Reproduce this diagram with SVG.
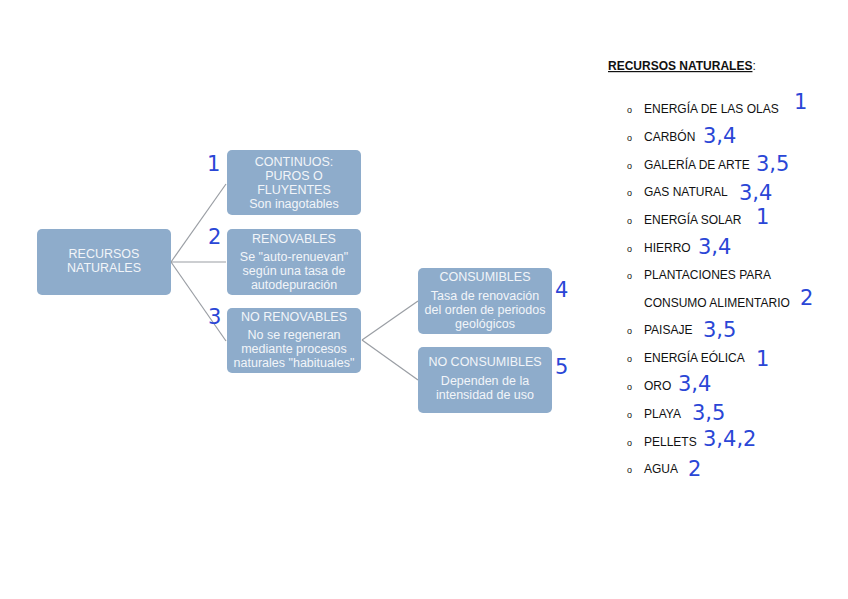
<svg xmlns="http://www.w3.org/2000/svg" width="848" height="599" viewBox="0 0 848 599">
<style>
.box{fill:#8eaccb;}
.bt{font-family:"Liberation Sans",Arial,sans-serif;font-size:12.5px;fill:#f2f5f9;text-anchor:middle;}
.ln{stroke:#9a9ea4;stroke-width:1.2;fill:none;}
.hw{font-family:"DejaVu Sans",sans-serif;font-size:21px;fill:#2a46d6;}
.li{font-family:"Liberation Sans",Arial,sans-serif;font-size:12px;fill:#111;}
.bu{font-family:"Liberation Sans",Arial,sans-serif;font-size:9px;fill:#111;}
</style>
<rect width="848" height="599" fill="#fff"/>
<g id="connectors">
<line class="ln" x1="171" y1="262" x2="226" y2="184"/>
<line class="ln" x1="171" y1="262" x2="226" y2="262"/>
<line class="ln" x1="171" y1="262" x2="226" y2="341"/>
<line class="ln" x1="362" y1="340" x2="418" y2="301"/>
<line class="ln" x1="362" y1="340" x2="418" y2="380"/>
</g>
<g id="n-root">
<rect class="box" x="37" y="229" width="134" height="66" rx="5"/>
<text class="bt" x="104" y="258">RECURSOS</text>
<text class="bt" x="104" y="272">NATURALES</text>
</g>
<g id="n-continuos">
<rect class="box" x="227" y="150" width="134" height="65" rx="5"/>
<text class="bt" x="294" y="166">CONTINUOS:</text>
<text class="bt" x="294" y="180">PUROS O</text>
<text class="bt" x="294" y="194">FLUYENTES</text>
<text class="bt" x="294" y="208">Son inagotables</text>
</g>
<g id="n-renovables">
<rect class="box" x="227" y="229" width="134" height="66" rx="5"/>
<text class="bt" x="294" y="243">RENOVABLES</text>
<text class="bt" x="294" y="261">Se "auto-renuevan"</text>
<text class="bt" x="294" y="275">según una tasa de</text>
<text class="bt" x="294" y="289">autodepuración</text>
</g>
<g id="n-norenovables">
<rect class="box" x="227" y="308" width="134" height="65" rx="5"/>
<text class="bt" x="294" y="321">NO RENOVABLES</text>
<text class="bt" x="294" y="339">No se regeneran</text>
<text class="bt" x="294" y="353">mediante procesos</text>
<text class="bt" x="294" y="367">naturales "habituales"</text>
</g>
<g id="n-consumibles">
<rect class="box" x="418" y="268" width="134" height="66" rx="5"/>
<text class="bt" x="485" y="281">CONSUMIBLES</text>
<text class="bt" x="485" y="300">Tasa de renovación</text>
<text class="bt" x="485" y="314">del orden de periodos</text>
<text class="bt" x="485" y="328">geológicos</text>
</g>
<g id="n-noconsumibles">
<rect class="box" x="418" y="347" width="134" height="66" rx="5"/>
<text class="bt" x="485" y="366">NO CONSUMIBLES</text>
<text class="bt" x="485" y="385">Dependen de la</text>
<text class="bt" x="485" y="399">intensidad de uso</text>
</g>
<g id="handnums-diagram">
<text class="hw" x="207" y="171">1</text>
<text class="hw" x="208" y="244">2</text>
<text class="hw" x="208" y="324">3</text>
<text class="hw" x="555" y="297">4</text>
<text class="hw" x="555" y="374">5</text>
</g>
<g id="list">
<text class="li" x="608" y="70" font-weight="bold"><tspan text-decoration="underline">RECURSOS NATURALES</tspan><tspan font-weight="normal">:</tspan></text>
<g class="bu">
<text x="627" y="113">o</text>
<text x="627" y="141">o</text>
<text x="627" y="169">o</text>
<text x="627" y="196">o</text>
<text x="627" y="224">o</text>
<text x="627" y="252">o</text>
<text x="627" y="279">o</text>
<text x="627" y="334">o</text>
<text x="627" y="362">o</text>
<text x="627" y="390">o</text>
<text x="627" y="418">o</text>
<text x="627" y="446">o</text>
<text x="627" y="473">o</text>
</g>
<text class="li" x="644" y="113">ENERGÍA DE LAS OLAS</text>
<text class="li" x="644" y="141">CARBÓN</text>
<text class="li" x="644" y="169">GALERÍA DE ARTE</text>
<text class="li" x="644" y="196">GAS NATURAL</text>
<text class="li" x="644" y="224">ENERGÍA SOLAR</text>
<text class="li" x="644" y="252">HIERRO</text>
<text class="li" x="644" y="279">PLANTACIONES PARA</text>
<text class="li" x="644" y="307">CONSUMO ALIMENTARIO</text>
<text class="li" x="644" y="334">PAISAJE</text>
<text class="li" x="644" y="362">ENERGÍA EÓLICA</text>
<text class="li" x="644" y="390">ORO</text>
<text class="li" x="644" y="418">PLAYA</text>
<text class="li" x="644" y="446">PELLETS</text>
<text class="li" x="644" y="473">AGUA</text>
</g>
<g id="handnums-list">
<text class="hw" x="794" y="109">1</text>
<text class="hw" x="703" y="143">3,4</text>
<text class="hw" x="756" y="171">3,5</text>
<text class="hw" x="739" y="200">3,4</text>
<text class="hw" x="756" y="224">1</text>
<text class="hw" x="698" y="254">3,4</text>
<text class="hw" x="800" y="305">2</text>
<text class="hw" x="703" y="337">3,5</text>
<text class="hw" x="756" y="366">1</text>
<text class="hw" x="678" y="391">3,4</text>
<text class="hw" x="692" y="420">3,5</text>
<text class="hw" x="703" y="446">3,4,2</text>
<text class="hw" x="688" y="476">2</text>
</g>
</svg>
